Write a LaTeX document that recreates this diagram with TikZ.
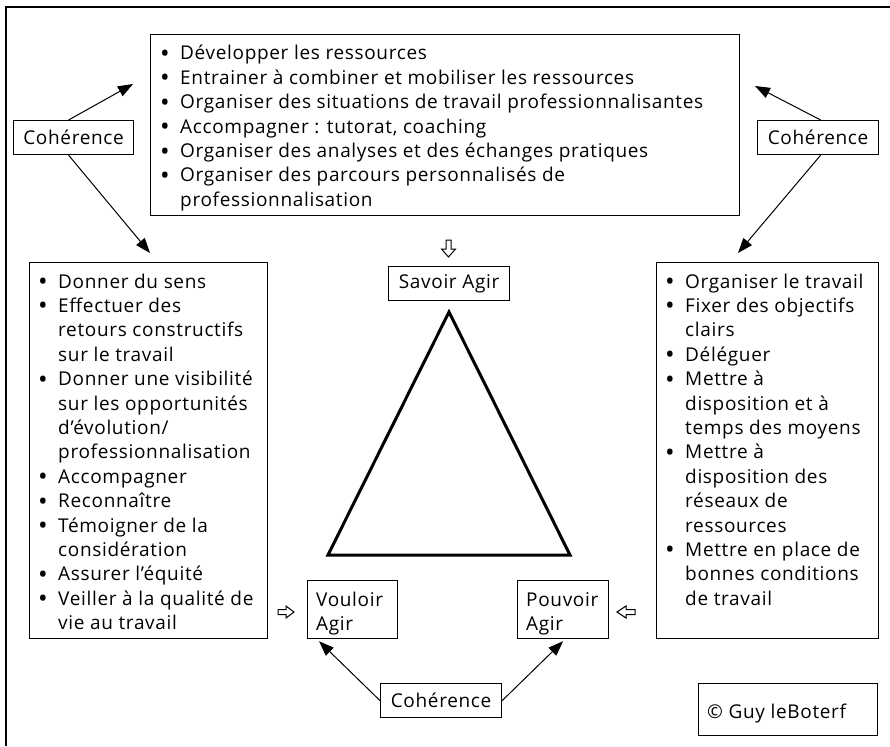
\documentclass[tikz,border=0pt]{standalone}
\usepackage{fontspec}
\setmainfont[LetterSpace=3.5]{Open Sans}
\usetikzlibrary{arrows.meta}
\newcommand{\listfont}{\fontsize{19}{24.4}\selectfont}
\newcommand{\bitem}[1]{\noindent\hangindent=20pt\hangafter=1\makebox[20pt][l]{\hspace{0pt}\raisebox{-2.5pt}{\scalebox{1.35}{\textbullet}}}#1\par}
\begin{document}
\begin{tikzpicture}[x=1pt,y=-1pt,
  frame/.style={draw=black, line width=1.3pt},
  boxnode/.style={draw=black, line width=1.2pt, inner sep=0pt, anchor=north west},
  txt/.style={inner sep=0pt, anchor=base west, font=\listfont},
  lbl/.style={boxnode, font=\listfont},
  link/.style={line width=1pt, -{Triangle[length=15pt,width=11pt]}},
  hollow/.style={draw=black, line width=1pt, fill=white, line join=miter},
]
\useasboundingbox (0,0) rectangle (890,746);
\draw[frame] (6,746) -- (6,7) -- (890,7);

% top box
\node[boxnode, minimum width=589pt, minimum height=181pt] (topbox) at (150,34) {};
\node[txt] (toplist) at (160,60) {\parbox[t]{600pt}{\raggedright
\bitem{Développer les ressources}
\bitem{Entrainer à combiner et mobiliser les ressources}
\bitem{Organiser des situations de travail professionnalisantes}
\bitem{Accompagner : tutorat, coaching}
\bitem{Organiser des analyses et des échanges pratiques}
\bitem{Organiser des parcours personnalisés de\newline professionnalisation}}};

% left box
\node[boxnode, minimum width=238pt, minimum height=376pt] (leftbox) at (29,262) {};
\node[txt] (leftlist) at (38,288) {\parbox[t]{300pt}{\raggedright
\bitem{Donner du sens}
\bitem{Effectuer des\newline retours constructifs\newline sur le travail}
\bitem{Donner une visibilité\newline sur les opportunités\newline d’évolution/\newline professionnalisation}
\bitem{Accompagner}
\bitem{Reconnaître}
\bitem{Témoigner de la\newline considération}
\bitem{Assurer l’équité}
\bitem{Veiller à la qualité de\newline vie au travail}}};

% right box
\node[boxnode, minimum width=222pt, minimum height=376pt] (rightbox) at (656,262) {};
\node[txt] (rightlist) at (665,288) {\parbox[t]{300pt}{\raggedright
\bitem{Organiser le travail}
\bitem{Fixer des objectifs\newline clairs}
\bitem{Déléguer}
\bitem{Mettre à\newline disposition et à\newline temps des moyens}
\bitem{Mettre à\newline disposition des\newline réseaux de\newline ressources}
\bitem{Mettre en place de\newline bonnes conditions\newline de travail}}};

% Cohérence boxes
\node[lbl, minimum width=120pt, minimum height=34pt] (coh1) at (13,120) {Cohérence};
\node[lbl, minimum width=121pt, minimum height=34pt] (coh2) at (757,120) {Cohérence};
\node[lbl, minimum width=121pt, minimum height=34pt] (coh3) at (380,683) {Cohérence};

% Savoir / Vouloir / Pouvoir
\node[lbl, minimum width=121pt, minimum height=34pt] (savoir) at (388,266) {Savoir Agir};
\node[boxnode, minimum width=90pt, minimum height=58pt] (vouloir) at (307,580) {};
\node[txt] (voulointxt) at (316,606) {\parbox[t]{80pt}{Vouloir\newline Agir}};
\node[boxnode, minimum width=91pt, minimum height=58pt] (pouvoir) at (517,580) {};
\node[txt] (pouvoirtxt) at (526,606) {\parbox[t]{80pt}{Pouvoir\newline Agir}};

% copyright
\node[boxnode, minimum width=179pt, minimum height=52pt] (copy) at (698,683) {};
\node[txt] (copytxt) at (707,718) {© Guy leBoterf};

% triangle
\draw[line width=3pt, line join=miter] (449,312) -- (570,555) -- (328,555) -- cycle;

% hollow arrows
\draw[hollow] (446,240) -- (451,240) -- (451,249) -- (455.5,249) -- (448.5,257) -- (441.5,249) -- (446,249) -- cycle;
\draw[hollow] (278,609.5) -- (286,609.5) -- (286,606) -- (294,612) -- (286,618) -- (286,614.5) -- (278,614.5) -- cycle;
\draw[hollow] (635,609.5) -- (626,609.5) -- (626,606) -- (617,612) -- (626,618) -- (626,614.5) -- (635,614.5) -- cycle;

% connectors
\coordinate (a1) at (133,84);
\coordinate (a2) at (150,253);
\coordinate (a3) at (755,86);
\coordinate (a4) at (738,253);
\draw[link] ([xshift=-5pt]coh1.north) -- (a1);
\draw[link] ([xshift=-5pt]coh1.south) -- (a2);
\draw[link] ([xshift=2.5pt]coh2.north) -- (a3);
\draw[link] ([xshift=2.5pt]coh2.south) -- (a4);
\draw[link] (coh3.west) -- ([xshift=12pt,yshift=-2pt]vouloir.south west);
\draw[link] (coh3.east) -- ([yshift=-2pt]pouvoir.south);
\end{tikzpicture}
\end{document}
